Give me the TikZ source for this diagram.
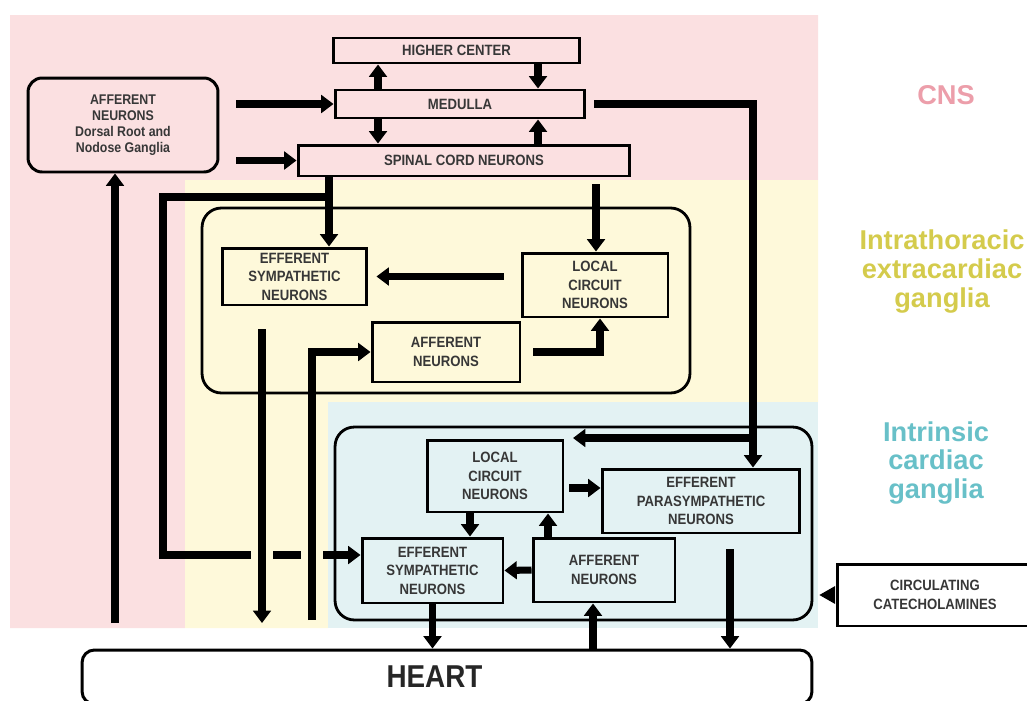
\documentclass[tikz,border=0pt]{standalone}
\usepackage{fontspec}
\setmainfont{Liberation Sans}
\newfontfamily\boxfont[FakeStretch=0.88]{Liberation Sans}
\usetikzlibrary{arrows.meta,positioning}
\definecolor{cnsbg}{RGB}{251,224,225}
\definecolor{thorbg}{RGB}{254,249,218}
\definecolor{cardbg}{RGB}{227,242,243}
\definecolor{cnstext}{RGB}{236,158,170}
\definecolor{thortext}{RGB}{212,203,76}
\definecolor{cardtext}{RGB}{104,192,200}
\definecolor{boxtext}{RGB}{55,55,55}

\begin{document}
\begin{tikzpicture}[x=0.02cm,y=-0.02cm,>={Triangle[length=7pt,width=10pt]}]
  \tikzstyle{box}=[rectangle,draw=black,line width=1.7pt,text=boxtext,align=center,
                   inner sep=0.5pt,font=\boxfont\bfseries\fontsize{8.5}{10.5}\selectfont]
  \tikzstyle{group}=[rectangle,rounded corners=11pt,draw=black,line width=1.6pt]
  \tikzstyle{link}=[->,line width=4pt]
  \tikzstyle{region}=[align=center,font=\bfseries\fontsize{15.5}{16.5}\selectfont]
  \useasboundingbox (0,0) rectangle (1027,700);
  \clip (0,0) rectangle (1027,700);
  % level backgrounds
  \fill [cnsbg] (10,15) -- (818,15) -- (818,180) -- (185,180) -- (185,628) -- (10,628) -- cycle;
  \fill [thorbg] (185,180) -- (818,180) -- (818,402) -- (328,402) -- (328,628) -- (185,628) -- cycle;
  \fill [cardbg] (328,402) rectangle (818,628);
  % CNS
  \node [box,minimum width=4.94cm,minimum height=0.5cm] (higher) at (456.5,50.5) {HIGHER CENTER};
  \node [box,minimum width=5cm,minimum height=0.56cm] (medulla) at (460,104) {MEDULLA};
  \node [box,minimum width=6.64cm,minimum height=0.62cm] (spinal) at (464,160.5) {SPINAL CORD NEURONS};
  \node [box,rounded corners=8pt,minimum width=3.8cm,minimum height=1.88cm,
         font=\boxfont\bfseries\fontsize{8}{9}\selectfont] (affcns) at (123,125)
        {AFFERENT\\NEURONS\\Dorsal Root and\\Nodose Ganglia};
  % intrathoracic extracardiac ganglia
  \node [group,minimum width=9.76cm,minimum height=3.7cm] (thorax) at (446,300.5) {};
  \node [box,minimum width=2.9cm,minimum height=1.14cm] (effsymT) at (294.5,276.5) {EFFERENT\\SYMPATHETIC\\NEURONS};
  \node [box,minimum width=2.92cm,minimum height=1.28cm] (localT) at (595,285) {LOCAL\\CIRCUIT\\NEURONS};
  \node [box,minimum width=2.96cm,minimum height=1.2cm] (affT) at (446,352) {AFFERENT\\NEURONS};
  % intrinsic cardiac ganglia
  \node [group,minimum width=9.54cm,minimum height=3.86cm] (heartgang) at (573.5,523.5) {};
  \node [box,minimum width=2.72cm,minimum height=1.44cm] (localI) at (495,476) {LOCAL\\CIRCUIT\\NEURONS};
  \node [box,minimum width=3.96cm,minimum height=1.28cm] (parasym) at (701,501) {EFFERENT\\PARASYMPATHETIC\\NEURONS};
  \node [box,minimum width=2.82cm,minimum height=1.3cm] (effsymI) at (432.5,570.5) {EFFERENT\\SYMPATHETIC\\NEURONS};
  \node [box,minimum width=2.84cm,minimum height=1.28cm] (affI) at (604,570) {AFFERENT\\NEURONS};
  % heart and blood
  \node [box,rounded corners=7pt,minimum width=14.6cm,minimum height=1.08cm,text=black!85,
         font=\boxfont\bfseries\fontsize{18}{20}\selectfont] (heart) at (447,677) {HEART\hspace*{0.5cm}};
  \node [box,minimum width=3.9cm,minimum height=1.24cm] (catechol) at (935,595) {CIRCULATING\\CATECHOLAMINES};
  % level names
  \node [region,text=cnstext] (cnsname) at (946,95) {CNS};
  \node [region,text=thortext] (thorname) at (942,272) {Intrathoracic\\extracardiac\\ganglia};
  \node [region,text=cardtext] (cardname) at (936,463) {Intrinsic\\cardiac\\ganglia};
  % columns and free ends
  \coordinate (colA) at (378,0);
  \coordinate (colB) at (538,0);
  \coordinate (colC) at (329,0);
  \coordinate (colD) at (596,0);
  \coordinate (colE) at (600,0);
  \coordinate (colF) at (470,0);
  \coordinate (colG) at (548,0);
  \coordinate (colH) at (593,0);
  \coordinate (colI) at (730,0);
  \coordinate (vagus) at (753,0);
  \coordinate (leftdrop) at (163,197);
  \coordinate (symrow) at (0,555);
  \coordinate (pararow) at (0,488);
  \coordinate (cardin) at (573,438);
  \coordinate (affin) at (115,623);
  \coordinate (symTout) at (262,623);
  \coordinate (affTin) at (312,620);
  % CNS links
  \draw [link,shorten <=0.34cm] (affcns.east |- medulla) -- (medulla);
  \draw [link,shorten <=0.34cm] (affcns.east |- spinal) -- (spinal);
  \draw [link] (medulla.north -| colA) -- (higher.south -| colA);
  \draw [link] (higher.south -| colB) -- (medulla.north -| colB);
  \draw [link] (medulla.south -| colA) -- (spinal.north -| colA);
  \draw [link] (spinal.north -| colB) -- (medulla.south -| colB);
  \draw [link] (affin) -- (affin |- affcns.south);
  % spinal cord outflow
  \draw [link] (spinal.south -| colC) -- (effsymT.north -| colC);
  \draw [link,shorten <=0.14cm] (spinal.south -| colD) -- (localT.north -| colD);
  \draw [link] (spinal.south -| colC) |- (leftdrop) -- (leftdrop |- symrow) -- (effsymI.west |- symrow);
  \fill [thorbg] (251,548) rectangle (273,562);
  \fill [thorbg] (301,548) rectangle (323,562);
  % vagal outflow
  \draw [link,shorten <=0.16cm] (medulla.east) -| (parasym.north -| vagus);
  \draw [link] (cardin -| vagus) -- (cardin);
  % intrathoracic ganglia
  \draw [link,shorten <=0.34cm,shorten >=0.16cm] (localT.west |- effsymT.east) -- (effsymT.east);
  \draw [link,shorten <=0.24cm] (affT.east) -| (localT.south -| colE);
  \draw [link,shorten <=0.46cm] (effsymT.south -| symTout) -- (symTout);
  \draw [link] (affTin) |- (affT.west);
  % intrinsic cardiac ganglia
  \draw [link,shorten <=0.1cm] (localI.east |- pararow) -- (parasym.west |- pararow);
  \draw [link] (localI.south -| colF) -- (effsymI.north -| colF);
  \draw [link] (affI.north -| colG) -- (localI.south -| colG);
  \draw [link] (affI.west) -- (effsymI.east);
  \draw [link] (effsymI.south) -- (heart.north -| effsymI.south);
  \draw [link] (heart.north -| colH) -- (affI.south -| colH);
  \draw [link,shorten <=0.3cm] (parasym.south -| colI) -- (heart.north -| colI);
  \draw [-{Triangle[length=9pt,width=10pt]},line width=1pt,shorten <=0.1cm,shorten >=0.12cm]
        (catechol.west) -- (heartgang.east |- catechol.west);
\end{tikzpicture}
\end{document}
